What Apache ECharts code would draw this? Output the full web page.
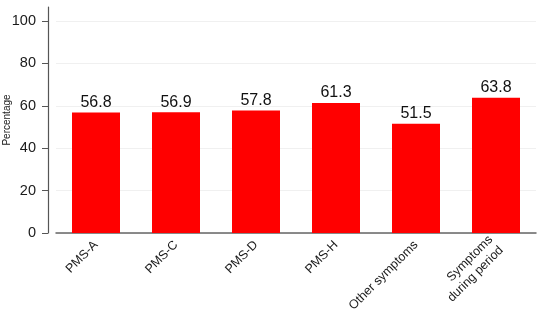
<!DOCTYPE html>
<html><head><meta charset="utf-8">
<script src="https://cdn.jsdelivr.net/npm/echarts@6/dist/echarts.min.js"></script>
<style>html,body{margin:0;padding:0;background:#fff}#c{width:550px;height:324px}</style>
</head><body><div id="c"></div>
<script>
const categories = ['PMS-A', 'PMS-C', 'PMS-D', 'PMS-H', 'Other symptoms', 'Symptoms\nduring period'];
const values = [56.8, 56.9, 57.8, 61.3, 51.5, 63.8];
const yTicks = [0, 20, 40, 60, 80, 100];
const yName = 'Percentage';

const chart = echarts.init(document.getElementById('c'), null, {renderer: 'canvas'});
chart.setOption({
  animation: false,
  backgroundColor: '#fff',
  grid: {left: 56, right: 14, top: 7, bottom: 91, containLabel: false, outerBoundsMode: 'none'},
  xAxis: {
    type: 'category', data: categories, boundaryGap: true,
    axisLine: {show: true, lineStyle: {color: '#666', width: 1.5}},
    axisTick: {show: false},
    axisLabel: {rotate: 45, margin: 10, fontSize: 12.5, color: '#1a1a1a', fontFamily: 'Liberation Sans, Arial', interval: 0, lineHeight: 15, align: 'right'}
  },
  yAxis: {
    type: 'value', min: 0, max: 106.6, offset: 8,
    name: yName, nameLocation: 'middle', nameGap: 36, nameMoveOverlap: false,
    nameTextStyle: {fontSize: 10, color: '#1a1a1a', fontFamily: 'Liberation Sans, Arial'},
    axisLine: {show: true, lineStyle: {color: '#555', width: 1.2}},
    axisTick: {show: true, length: 6, lineStyle: {color: '#555'}, customValues: yTicks},
    axisLabel: {fontSize: 14.5, color: '#1a1a1a', margin: 12, fontFamily: 'Liberation Sans, Arial', customValues: yTicks},
    splitLine: {show: true, lineStyle: {color: '#f0f0f0', width: 1}}
  },
  series: [{
    type: 'bar', data: values, barWidth: 48,
    itemStyle: {color: '#ff0000'},
    label: {show: true, position: 'top', distance: 2, fontSize: 16, color: '#111', fontFamily: 'Liberation Sans, Arial', formatter: p => p.value.toFixed(1)}
  }]
});
</script></body></html>
